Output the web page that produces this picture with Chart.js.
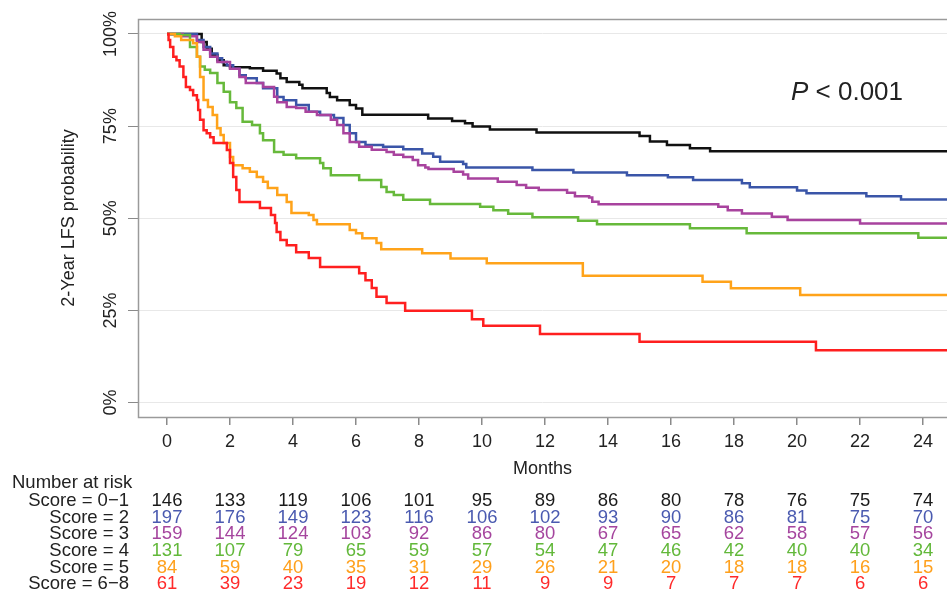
<!DOCTYPE html>
<html>
<head>
<meta charset="utf-8">
<script src="https://cdn.jsdelivr.net/npm/chart.js@4"></script>
<style>
  html, body { margin: 0; padding: 0; background: #fff; }
  #wrap { width: 947px; height: 594px; }
</style>
</head>
<body>
<div id="wrap"><canvas id="km" width="947" height="594"></canvas></div>
<script>
// Kaplan-Meier steps (months, LFS %)
const timeS01 = [0, 1.1, 1.26, 1.42, 1.6, 1.8, 2.0, 2.63, 3.05, 3.48, 3.6, 3.8, 4.2, 4.3, 5.07, 5.17, 5.4, 5.8, 6.0, 6.2, 8.29, 9.05, 9.46, 9.7, 10.25, 11.73, 15.0, 15.33, 15.87, 16.6, 17.24, 24.8];
const survS01 = [100, 97.8, 96, 94.3, 92.9, 91.5, 91.0, 90.7, 90, 89.3, 88, 87, 86.2, 85.3, 84, 82.9, 82, 80.7, 79.8, 78.1, 77.1, 76.4, 75.8, 74.9, 74.1, 73.3, 72.3, 70.8, 69.9, 69.0, 68.2, 68.2];

const timeS2 = [0, 0.95, 1.16, 1.37, 1.6, 1.75, 1.9, 2.1, 2.3, 2.5, 2.85, 3.05, 3.5, 3.7, 4.1, 4.5, 4.86, 5.3, 5.6, 5.8, 6.0, 6.3, 6.86, 7.5, 8.1, 8.45, 8.67, 9.4, 9.5, 11.6, 12.9, 14.6, 15.9, 16.7, 18.25, 18.5, 20.0, 20.3, 22.2, 23.3, 24.8];
const survS2 = [100, 98.4, 96.5, 94.7, 93.4, 92.4, 91.5, 90.6, 88.8, 88, 86.7, 85.3, 82.9, 82, 80.7, 78.9, 78, 77.2, 75.3, 73.1, 70.7, 69.9, 69.4, 68.7, 67.6, 66.7, 65.3, 64.7, 63.8, 63.1, 62.4, 61.7, 61.1, 60.4, 59.5, 58.4, 57.5, 56.8, 56.0, 55.1, 55.1];

const timeS3 = [0, 0.5, 0.95, 1.16, 1.37, 1.6, 2.0, 2.3, 2.5, 3.05, 3.4, 3.5, 3.8, 4.1, 4.4, 4.76, 5.2, 5.4, 5.6, 5.8, 6.1, 6.5, 6.97, 7.2, 7.5, 7.8, 7.97, 8.2, 8.3, 9.1, 9.4, 9.56, 10.5, 11.1, 11.4, 11.8, 12.7, 12.95, 13.4, 13.5, 13.7, 17.5, 17.8, 18.25, 19.2, 19.7, 22.0, 24.8];
const survS3 = [100, 99.4, 97.8, 95.7, 93.8, 92.4, 90.6, 88.3, 86.7, 85.6, 83, 81.5, 80.2, 79.9, 78.9, 78, 76.7, 75.3, 73.1, 70.7, 69.4, 68.6, 68, 67.2, 66.6, 65.8, 64.4, 63.8, 63.4, 62.6, 61.9, 60.8, 59.9, 59.0, 58.3, 57.7, 56.9, 56.0, 55.6, 54.5, 53.8, 53.1, 52.2, 51.3, 50.4, 49.5, 48.6, 48.6];

const timeS4 = [0, 0.4, 0.73, 0.95, 1.05, 1.2, 1.37, 1.6, 1.8, 2.0, 2.2, 2.4, 2.7, 2.95, 3.05, 3.4, 3.7, 4.1, 4.86, 4.96, 5.2, 6.1, 6.8, 6.97, 7.2, 7.5, 8.35, 9.94, 10.36, 10.83, 11.6, 13.05, 13.65, 16.6, 18.4, 23.85, 24.8];
const survS4 = [100, 99.7, 96.5, 93.8, 91.2, 90.3, 89.4, 86.7, 84.3, 81.5, 79.9, 76.2, 75.3, 73.1, 71.2, 68, 67.2, 66.3, 65, 63.6, 61.7, 60.4, 58.5, 57.1, 56.3, 55.0, 53.9, 53.1, 52.2, 51.2, 50.3, 49.3, 48.4, 47.3, 45.9, 44.7, 44.7];

const timeS5 = [0, 0.25, 0.45, 0.83, 0.95, 1.05, 1.16, 1.3, 1.45, 1.59, 1.7, 1.8, 2.0, 2.1, 2.4, 2.63, 2.85, 3.05, 3.2, 3.5, 3.8, 3.95, 4.5, 4.65, 4.76, 5.8, 6.0, 6.2, 6.65, 6.8, 8.1, 9.0, 10.15, 13.2, 17.0, 17.9, 20.1, 24.8];
const survS5 = [100, 99.4, 98.4, 97.5, 93.8, 88.3, 82.1, 80.2, 78, 74.4, 72.6, 70.4, 66.6, 64.4, 63.6, 62.6, 61.2, 59.9, 58.2, 56.3, 54.4, 51.4, 50.9, 49.5, 48.4, 46.8, 45.9, 44.6, 43.3, 41.6, 40.5, 39.1, 37.8, 34.4, 32.8, 31.0, 29.2, 29.2];

const timeS68 = [0, 0.05, 0.1, 0.2, 0.3, 0.4, 0.52, 0.6, 0.73, 0.83, 0.95, 0.99, 1.05, 1.16, 1.26, 1.37, 1.48, 1.9, 2.0, 2.1, 2.2, 2.3, 2.95, 3.3, 3.43, 3.48, 3.6, 3.8, 4.1, 4.5, 4.86, 6.1, 6.3, 6.5, 6.65, 6.97, 7.56, 9.68, 10.04, 11.84, 15.0, 20.6, 24.8];
const survS68 = [100, 98.4, 96.5, 93.8, 92.9, 91.2, 88.3, 85.6, 84.8, 83.4, 82.1, 79.4, 76.7, 73.9, 73.1, 72, 70.4, 68.5, 65, 61.2, 57.7, 54.4, 52.8, 50.9, 48.7, 46.3, 44.1, 42.7, 40.8, 39.2, 36.8, 35.1, 33.2, 31.1, 28.7, 27.0, 24.9, 22.6, 20.8, 18.6, 16.5, 14.2, 14.2];

// axis ticks
const monthTicks = [0, 2, 4, 6, 8, 10, 12, 14, 16, 18, 20, 22, 24];
const pctTicks = [0, 25, 50, 75, 100];

// number at risk table
const groupLabels = ['Score = 0\u22121', 'Score = 2', 'Score = 3', 'Score = 4', 'Score = 5', 'Score = 6\u22128'];
const riskS01 = [146, 133, 119, 106, 101, 95, 89, 86, 80, 78, 76, 75, 74];
const riskS2 = [197, 176, 149, 123, 116, 106, 102, 93, 90, 86, 81, 75, 70];
const riskS3 = [159, 144, 124, 103, 92, 86, 80, 67, 65, 62, 58, 57, 56];
const riskS4 = [131, 107, 79, 65, 59, 57, 54, 47, 46, 42, 40, 40, 34];
const riskS5 = [84, 59, 40, 35, 31, 29, 26, 21, 20, 18, 18, 16, 15];
const riskS68 = [61, 39, 23, 19, 12, 11, 9, 9, 7, 7, 7, 6, 6];

const lineColors = ['#111111', '#3a55a8', '#a8439e', '#67b93b', '#ffa31a', '#ff1f1f'];
const textColors = ['#1a1a1a', '#4a5ab0', '#a5459e', '#62b83a', '#ffa01c', '#ff2a2a'];

const FONT = '"Liberation Sans", Arial, sans-serif';

const series = [
  [timeS01, survS01], [timeS2, survS2], [timeS3, survS3],
  [timeS4, survS4], [timeS5, survS5], [timeS68, survS68]
];
const risks = [riskS01, riskS2, riskS3, riskS4, riskS5, riskS68];

const datasets = series.map(([t, s], i) => ({
  label: groupLabels[i],
  data: t.map((x, k) => ({ x: x, y: s[k] })),
  borderColor: lineColors[i],
  borderWidth: 2.5,
  pointRadius: 0,
  stepped: 'before',
  fill: false
})).reverse();

// box, rotated y labels, p-value and risk table
const extras = {
  id: 'extras',
  afterDraw(chart) {
    const ctx = chart.ctx;
    const a = chart.chartArea;
    const xs = chart.scales.x;
    const ys = chart.scales.y;
    ctx.save();

    ctx.strokeStyle = '#9a9a9a';
    ctx.lineWidth = 1.5;
    ctx.strokeRect(a.left + 0.5, a.top + 0.5, a.right - a.left + 5, a.bottom - a.top);

    ctx.fillStyle = '#222';
    ctx.font = '18px ' + FONT;
    ctx.textAlign = 'center';
    ctx.textBaseline = 'middle';
    pctTicks.forEach(v => {
      ctx.save();
      ctx.translate(111, ys.getPixelForValue(v));
      ctx.rotate(-Math.PI / 2);
      ctx.fillText(v + '%', 0, 0);
      ctx.restore();
    });

    // P value
    ctx.font = 'italic 26px ' + FONT;
    const wP = ctx.measureText('P').width;
    ctx.font = '26px ' + FONT;
    const rest = ' < 0.001';
    const wR = ctx.measureText(rest).width;
    let px = 847 - (wP + wR) / 2;
    ctx.textAlign = 'left';
    ctx.fillStyle = '#222';
    ctx.font = 'italic 26px ' + FONT;
    ctx.fillText('P', px, 93);
    ctx.font = '26px ' + FONT;
    ctx.fillText(rest, px + wP, 93);

    // number at risk
    ctx.font = '18.5px ' + FONT;
    ctx.textAlign = 'left';
    ctx.fillStyle = '#222';
    ctx.fillText('Number at risk', 12, 483);
    const rowY = [501, 518, 534, 551, 568, 584];
    groupLabels.forEach((lab, i) => {
      ctx.textAlign = 'right';
      ctx.fillStyle = '#222';
      ctx.fillText(lab, 129, rowY[i]);
      ctx.textAlign = 'center';
      ctx.fillStyle = textColors[i];
      risks[i].forEach((n, k) => {
        ctx.fillText(String(n), xs.getPixelForValue(monthTicks[k]), rowY[i]);
      });
    });
    ctx.restore();
  }
};

new Chart(document.getElementById('km'), {
  type: 'line',
  data: { datasets: datasets },
  options: {
    responsive: false,
    animation: false,
    devicePixelRatio: 1,
    layout: { padding: { left: 0, right: 0, top: 19, bottom: 112 } },
    plugins: { legend: { display: false }, tooltip: { enabled: false } },
    scales: {
      x: {
        type: 'linear',
        min: -0.9206,
        max: 24.76,
        afterBuildTicks: s => { s.ticks = monthTicks.map(v => ({ value: v })); },
        afterFit: s => { s.height = 65; },
        border: { display: false },
        grid: { drawOnChartArea: false, drawTicks: true, tickLength: 8, tickColor: '#8a8a8a', lineWidth: 1.5 },
        ticks: { color: '#222', padding: 6, maxRotation: 0, autoSkip: false, font: { family: FONT, size: 18 } },
        title: { display: true, text: 'Months', color: '#222', padding: { top: 0, bottom: 2 }, font: { family: FONT, size: 18 } }
      },
      y: {
        type: 'linear',
        min: -3.93,
        max: 104.07,
        afterBuildTicks: s => { s.ticks = pctTicks.map(v => ({ value: v })); },
        afterFit: s => { s.width = 138; },
        border: { display: false },
        grid: { color: '#e8e8e8', lineWidth: 1, tickColor: '#8a8a8a', tickLength: 10, drawTicks: true },
        ticks: { display: false },
        title: { display: true, text: '2-Year LFS probability', color: '#222', padding: { top: 58, bottom: 0 }, font: { family: FONT, size: 18 } }
      }
    }
  },
  plugins: [extras]
});
</script>
</body>
</html>
